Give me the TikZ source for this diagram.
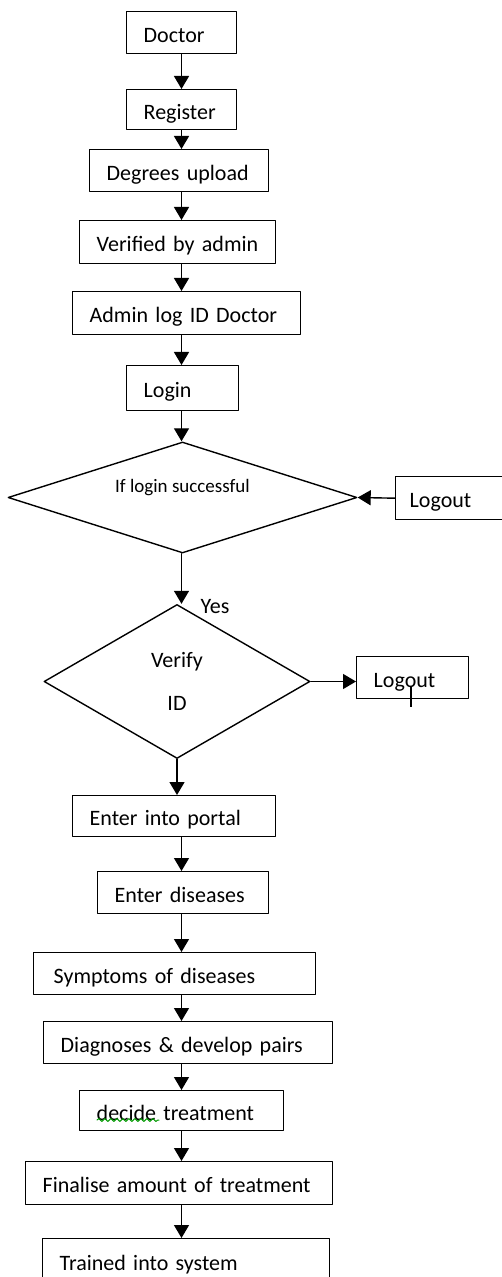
\documentclass[tikz,border=0pt]{standalone}
\usepackage{fontspec}
\setmainfont{Carlito}
\usetikzlibrary{arrows.meta,shapes.geometric,decorations.pathmorphing}

\begin{document}
\begin{tikzpicture}[line cap=round,line join=round,>={Triangle[length=6.5pt,width=7.5pt]},x=0.5pt,y=-0.5pt,
  box/.style={draw,line width=0.7pt,rectangle,anchor=north west,align=left,inner xsep=8.5pt,inner ysep=0pt,text height=9.5pt,text depth=0pt,font=\fontsize{11}{13}\selectfont},
  decision/.style={draw,line width=0.7pt,diamond,align=center,inner sep=1pt,font=\fontsize{11}{13}\selectfont},
  flow/.style={->,line width=0.7pt}]
\clip(0,0) rectangle (502,1277);
\coordinate (spine) at (181.5,0);
\node[box,text width=38pt,minimum height=21pt] (doctor) at (126,11) {Doctor};
\node[box,text width=38pt,minimum height=20pt] (register) at (126,89) {Register};
\node[box,text width=72.5pt,minimum height=21pt] (degrees) at (89,149) {Degrees upload};
\node[box,text width=81pt,minimum height=21.5pt] (verified) at (79,220) {Verified by admin};
\node[box,text width=97pt,minimum height=21.5pt] (adminlog) at (72,291) {Admin log ID Doctor};
\node[box,text width=39pt,minimum height=22.5pt] (login) at (126,365) {Login};
\node[decision,minimum width=174.5pt,minimum height=55.5pt,
  label={[yshift=5pt,font=\fontsize{9.5}{11}\selectfont]center:If login successful}] (ifok) at (182.5,497.5) {};
\node[box,inner xsep=7pt,text width=48pt,minimum height=21.5pt] (logoutA) at (395,476) {Logout};
\node (yes) [font=\fontsize{11}{13}\selectfont] at (215,607) {Yes};
\node[decision,aspect=1.73,minimum width=133pt,minimum height=77pt] (verifyid) at (177,681.5) {Verify\\[8.5pt]ID};
\node[box,text width=39pt,minimum height=21pt] (logoutB) at (356,656) {Logout};
\node[box,text width=84.5pt,minimum height=20.5pt] (portal) at (72,795) {Enter into portal};
\node[box,text width=68.5pt,minimum height=21pt] (diseases) at (97,871) {Enter diseases};
\node[box,inner xsep=10pt,text width=121pt,minimum height=21pt] (symptoms) at (33,952) {Symptoms of diseases};
\node[box,text width=127.5pt,minimum height=21pt] (diagnoses) at (43,1021) {Diagnoses \& develop pairs};
\node[box,text width=85pt,minimum height=20pt] (decide) at (79,1090) {decide treatment};
\node[box,text width=136.5pt,minimum height=21.5pt] (finalise) at (25,1161) {Finalise amount of treatment};
\node[box,text width=126.5pt,minimum height=22pt] (trained) at (42,1238) {Trained into system};
% main line
\draw[flow] (doctor.south -| spine) -- (register.north -| spine);
\draw[flow] (register.south -| spine) -- (degrees.north -| spine);
\draw[flow] (degrees.south -| spine) -- (verified.north -| spine);
\draw[flow] (verified.south -| spine) -- (adminlog.north -| spine);
\draw[flow] (adminlog.south -| spine) -- (login.north -| spine);
\draw[flow] (login.south -| spine) -- (ifok.north -| spine);
\draw[flow] (ifok.south -| spine) -- (verifyid.north -| spine);
\draw[flow] (verifyid.south) -- (portal.north -| verifyid.south);
\draw[flow] (portal.south -| spine) -- (diseases.north -| spine);
\draw[flow] (diseases.south -| spine) -- (symptoms.north -| spine);
\draw[flow] (symptoms.south -| spine) -- (diagnoses.north -| spine);
\draw[flow] (diagnoses.south -| spine) -- (decide.north -| spine);
\draw[flow] (decide.south -| spine) -- (finalise.north -| spine);
\draw[flow] (finalise.south -| spine) -- (trained.north -| spine);
% side exits
\draw[flow] (logoutA.west) -- (ifok.east);
\draw[flow] (verifyid.east) -- (verifyid.east -| logoutB.west);
% marks in the scan
\draw[green!60!black,line width=0.5pt,decorate,decoration={snake,amplitude=0.7pt,segment length=3pt}] (97,1120) -- (159,1120);
\draw[line width=1pt,line cap=butt] (411,687) -- (411,707);
\end{tikzpicture}
\end{document}
